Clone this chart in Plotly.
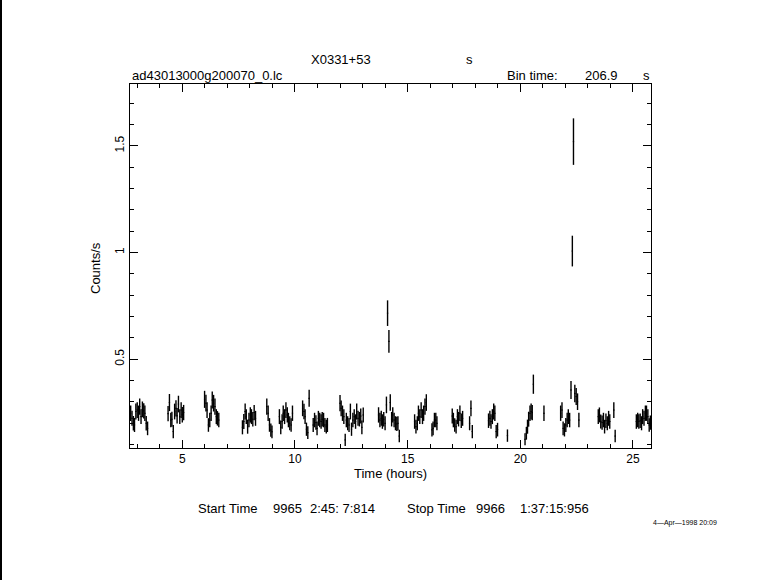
import plotly.graph_objects as go

# ---------------- data ----------------
time_hr = [
    2.71, 2.77, 2.83, 2.88, 2.94, 3.00, 3.06, 3.11, 3.17, 3.23, 3.29, 3.34, 3.40, 3.46,
    4.37, 4.43, 4.49, 4.54, 4.60, 4.66, 4.72, 4.77, 4.83, 4.89, 4.95, 5.00, 5.06,
    5.99, 6.05, 6.10, 6.16, 6.22, 6.28, 6.33, 6.39, 6.45, 6.51, 6.56, 6.62,
    7.67, 7.73, 7.79, 7.84, 7.90, 7.96, 8.02, 8.07, 8.13, 8.19, 8.25,
    8.75, 8.81, 8.87, 8.93, 8.98,
    9.31, 9.37, 9.43, 9.48, 9.54, 9.60, 9.66, 9.71, 9.77, 9.83, 9.89,
    10.34, 10.40, 10.45, 10.51, 10.57, 10.63,
    10.81, 10.87, 10.93, 10.98, 11.04, 11.10, 11.16, 11.21, 11.27, 11.33, 11.39, 11.44,
    12.00, 12.05, 12.11, 12.17, 12.23, 12.28, 12.34, 12.40, 12.46, 12.51, 12.57, 12.63,
    12.69, 12.74, 12.80, 12.86, 12.92, 12.97, 13.03,
    13.71, 13.77, 13.83, 13.88, 13.94, 14.00, 14.06, 14.11, 14.17, 14.23, 14.29, 14.34,
    14.40, 14.46, 14.52, 14.57, 14.63,
    15.31, 15.37, 15.43, 15.48, 15.54, 15.60, 15.66, 15.71, 15.77, 15.83,
    16.08, 16.13, 16.19, 16.25, 16.30,
    16.98, 17.03, 17.09, 17.15, 17.21, 17.26, 17.32, 17.38, 17.44, 17.75, 17.81, 17.87,
    18.59, 18.65, 18.70, 18.76, 18.82, 18.87, 18.93, 18.99,
    19.43,
    20.21, 20.27, 20.32, 20.37, 20.43, 20.48, 20.53, 20.58,
    21.05,
    21.79, 21.85, 21.90, 21.96, 22.02, 22.08, 22.13, 22.19, 22.25, 22.31, 22.36, 22.42,
    22.48, 22.54, 22.60,
    23.46, 23.51, 23.57, 23.63, 23.69, 23.74, 23.80, 23.86, 23.92, 23.97, 24.15, 24.21,
    25.15, 25.21, 25.26, 25.32, 25.38, 25.43, 25.49, 25.55, 25.60, 25.66, 25.72, 25.77,
]

rate = [
    0.247, 0.223, 0.200, 0.192, 0.255, 0.262, 0.247, 0.278, 0.231, 0.265, 0.258, 0.247, 0.200, 0.176,
    0.245, 0.297, 0.215, 0.219, 0.161, 0.255, 0.270, 0.235, 0.290, 0.231, 0.262, 0.240, 0.250,
    0.312, 0.294, 0.262, 0.192, 0.215, 0.247, 0.309, 0.294, 0.278, 0.231, 0.223, 0.215,
    0.181, 0.208, 0.255, 0.231, 0.184, 0.215, 0.239, 0.231, 0.219, 0.250, 0.223,
    0.278, 0.247, 0.192, 0.168, 0.160,
    0.231, 0.181, 0.208, 0.247, 0.231, 0.262, 0.239, 0.215, 0.200, 0.192, 0.247,
    0.270, 0.255, 0.231, 0.172, 0.156, 0.317,
    0.192, 0.215, 0.203, 0.176, 0.223, 0.215, 0.208, 0.219, 0.215, 0.192, 0.184, 0.192,
    0.294, 0.270, 0.247, 0.231, 0.122, 0.215, 0.200, 0.192, 0.255, 0.172, 0.215, 0.231,
    0.208, 0.255, 0.223, 0.219, 0.234, 0.181, 0.239,
    0.239, 0.215, 0.223, 0.208, 0.219, 0.200, 0.286, 0.716, 0.584, 0.297, 0.219, 0.239,
    0.215, 0.200, 0.197, 0.200, 0.140,
    0.208, 0.184, 0.200, 0.247, 0.231, 0.262, 0.231, 0.247, 0.278, 0.297,
    0.169, 0.176, 0.215, 0.215, 0.200,
    0.234, 0.215, 0.192, 0.184, 0.231, 0.219, 0.247, 0.212, 0.223, 0.200, 0.270, 0.161,
    0.212, 0.223, 0.208, 0.231, 0.255, 0.247, 0.161, 0.170,
    0.142,
    0.125, 0.153, 0.184, 0.219, 0.247, 0.255, 0.250, 0.383,
    0.247,
    0.247, 0.262, 0.176, 0.169, 0.192, 0.215, 0.231, 0.215, 0.356, 1.007, 1.520, 0.340,
    0.325, 0.301, 0.215,
    0.231, 0.239, 0.208, 0.203, 0.215, 0.184, 0.212, 0.200, 0.223, 0.208, 0.262, 0.140,
    0.208, 0.215, 0.208, 0.212, 0.200, 0.231, 0.223, 0.247, 0.247, 0.231, 0.192, 0.203,
]

rate_err = [
    0.036, 0.035, 0.034, 0.033, 0.037, 0.037, 0.036, 0.038, 0.035, 0.037, 0.036, 0.036, 0.034, 0.032,
    0.036, 0.040, 0.034, 0.035, 0.031, 0.037, 0.038, 0.036, 0.039, 0.035, 0.037, 0.036, 0.036,
    0.040, 0.039, 0.037, 0.032, 0.034, 0.036, 0.040, 0.039, 0.038, 0.035, 0.034, 0.034,
    0.033, 0.035, 0.037, 0.035, 0.033, 0.034, 0.036, 0.035, 0.034, 0.036, 0.035,
    0.038, 0.036, 0.032, 0.031, 0.030,
    0.035, 0.032, 0.034, 0.036, 0.035, 0.037, 0.036, 0.034, 0.033, 0.032, 0.036,
    0.037, 0.036, 0.035, 0.031, 0.030, 0.040,
    0.033, 0.034, 0.034, 0.032, 0.035, 0.034, 0.034, 0.034, 0.034, 0.033, 0.032, 0.033,
    0.038, 0.037, 0.036, 0.035, 0.029, 0.034, 0.033, 0.033, 0.037, 0.031, 0.034, 0.035,
    0.034, 0.037, 0.035, 0.034, 0.035, 0.032, 0.035,
    0.036, 0.034, 0.035, 0.034, 0.034, 0.033, 0.039, 0.060, 0.053, 0.039, 0.034, 0.036,
    0.034, 0.033, 0.033, 0.033, 0.029,
    0.034, 0.032, 0.033, 0.036, 0.035, 0.037, 0.035, 0.036, 0.038, 0.039,
    0.031, 0.032, 0.034, 0.034, 0.033,
    0.035, 0.034, 0.032, 0.032, 0.035, 0.034, 0.036, 0.034, 0.035, 0.033, 0.037, 0.031,
    0.034, 0.035, 0.034, 0.035, 0.037, 0.036, 0.031, 0.032,
    0.029,
    0.028, 0.030, 0.033, 0.035, 0.036, 0.037, 0.036, 0.045,
    0.036,
    0.036, 0.037, 0.032, 0.031, 0.033, 0.034, 0.035, 0.034, 0.042, 0.072, 0.109, 0.041,
    0.040, 0.039, 0.034,
    0.035, 0.035, 0.033, 0.033, 0.034, 0.032, 0.034, 0.033, 0.035, 0.034, 0.037, 0.029,
    0.034, 0.034, 0.034, 0.034, 0.033, 0.035, 0.035, 0.036, 0.036, 0.035, 0.032, 0.033,
]

bin_time_s = 206.9
x_ticks = [5, 10, 15, 20, 25]
y_ticks = [0.5, 1, 1.5]
y_tick_text = ["0.5", "1", "1.5"]

title_src = "X0331+53"
file_name = "ad43013000g200070_0.lc"
start_parts = ["Start Time", "9965", "2:45: 7:814"]
stop_parts = ["Stop Time", "9966", "1:37:15:956"]
stamp = "4\u2014Apr\u20141998 20:09"

half_bin_hr = bin_time_s / 2.0 / 3600.0

FONT = "Liberation Sans"
NB = "\u00a0"

# plot area in page pixels: left 130, right 651, top 84, bottom 448
PL, PR, PT, PB = 130, 651, 84, 448


def px(xp):
    return (xp - PL) / (PR - PL)


def py(yp):
    return (PB - yp) / (PB - PT)


fig = go.Figure()
fig.add_trace(go.Scatter(
    x=time_hr, y=rate, mode="markers",
    marker=dict(size=1, color="black"),
    error_y=dict(type="data", array=rate_err, visible=True, color="black",
                 thickness=1.4, width=0),
    error_x=dict(type="constant", value=half_bin_hr, visible=True, color="black",
                 thickness=1, width=0),
    hoverinfo="x+y", showlegend=False,
))

axis_common = dict(
    showline=True, linecolor="black", linewidth=1, mirror="allticks",
    ticks="inside", tickcolor="black", tickwidth=1, showgrid=False, zeroline=False,
    tickfont=dict(family=FONT, size=12, color="black"),
)

fig.update_xaxes(range=[2.68, 25.80], tickvals=x_ticks, ticklen=8,
                 minor=dict(dtick=1, tick0=0, ticks="inside", ticklen=4,
                            tickcolor="black", tickwidth=1, showgrid=False),
                 **axis_common)
fig.update_yaxes(range=[0.084, 1.79], tickvals=y_ticks, ticktext=y_tick_text,
                 tickangle=-90, ticklen=8,
                 minor=dict(dtick=0.1, tick0=0, ticks="inside", ticklen=4,
                            tickcolor="black", tickwidth=1, showgrid=False),
                 **axis_common)


def ann(text, xp, yp, xanchor="left", size=13, angle=0):
    fig.add_annotation(text=text.replace(" ", NB), x=px(xp), y=py(yp),
                       xref="paper", yref="paper",
                       xanchor=xanchor, yanchor="middle", showarrow=False,
                       textangle=angle,
                       font=dict(family=FONT, size=size, color="black"))


ann(title_src, 341, 59, "center")
ann("s", 469, 59, "center")
ann(file_name, 130, 75, "left")
ann("Bin time:", 505, 75, "left")
ann(f"{bin_time_s}", 583, 75, "left")
ann("s", 646, 75, "center")
ann("Counts/s", 95, 268, "center", angle=-90)
ann("Time (hours)", 390, 473, "center")
for text, xl in zip(start_parts, [196, 271, 308]):
    ann(text, xl, 508, "left")
for text, xl in zip(stop_parts, [405, 474, 518]):
    ann(text, xl, 508, "left")
ann(stamp, 651, 523, "left", size=7)

fig.add_shape(type="line", xref="paper", yref="paper",
              x0=px(1), x1=px(1), y0=py(580), y1=py(0),
              line=dict(color="black", width=2))

fig.update_layout(
    width=781, height=580,
    margin=dict(l=PL, r=781 - PR, t=PT, b=580 - PB),
    paper_bgcolor="white", plot_bgcolor="white",
    font=dict(family=FONT, size=13, color="black"),
)

fig.write_html("out.html", config={"displayModeBar": False},
               post_script="document.body.style.margin='0';document.body.style.overflow='hidden';")
